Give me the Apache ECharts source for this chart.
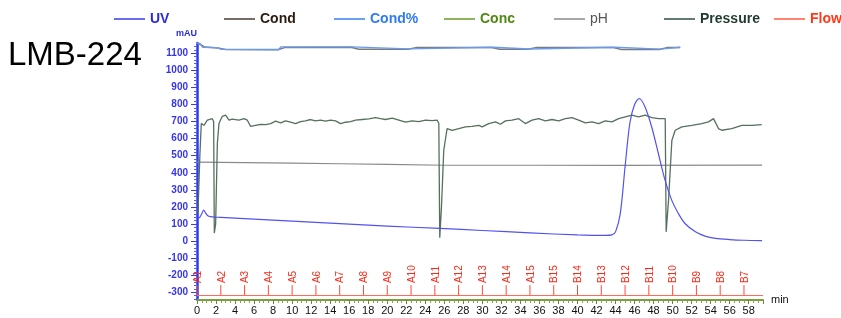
<!DOCTYPE html>
<html><head><meta charset="utf-8">
<script src="https://cdn.jsdelivr.net/npm/echarts@6/dist/echarts.min.js"></script>
<style>html,body{margin:0;padding:0;background:#fff}#c{width:841px;height:318px}</style>
</head><body><div id="c"></div>
<script>
// ---- data (minutes, value) ----
var uv = [[0.1,133],[0.3,140],[0.5,160],[0.7,181],[0.9,165],[1.1,150],[1.4,143],[2,140],[4,135],[8,123],[12,111],[16,99],[20,88],[25.5,74],[30,62],[35,48],[40,36],[43,33],[43.6,36],[44,54],[44.5,162],[45,435],[45.5,690],[46,800],[46.5,835],[47.1,785],[47.8,668],[48.5,513],[49.2,357],[49.9,240],[50.6,162],[51.3,103],[52.4,54],[53.4,29],[54.5,16],[56,9],[57.5,5],[59.4,3]];
var cond = [[0,1158],[0.4,1150],[0.8,1136],[2.2,1131],[3.0,1122],[8.5,1121],[9.2,1133],[16.2,1135],[17,1124],[22.2,1124],[23,1133],[31,1133],[31.8,1123],[34.8,1123],[35.6,1133],[43.8,1133],[44.6,1122],[48.6,1122],[49.4,1133],[50.8,1133]];
var condPct = [[0,1160],[0.3,1158],[0.6,1135],[2.0,1133],[2.6,1123],[8.6,1122],[8.8,1137],[16.3,1137],[16.5,1126],[22.2,1126],[22.4,1135],[31.1,1135],[31.3,1125],[34.9,1125],[35.1,1135],[43.9,1135],[44.1,1124],[48.7,1124],[48.9,1135],[50.8,1135]];
var conc = [];
var pH = [[0,462],[5,459],[10,456],[15,453],[20,449],[26,444],[35,444],[44,443],[44.2,445],[59.4,445]];
var pressure = [[0.1,160],[0.3,500],[0.45,688],[0.73,678],[0.91,680],[1.09,708],[1.61,717],[1.75,700],[1.82,47],[1.96,100],[2.14,573],[2.31,688],[2.66,731],[3.01,737],[3.36,708],[3.71,714],[4.41,708],[4.94,717],[5.29,708],[5.64,672],[6.16,678],[6.69,684],[7.21,682],[7.74,688],[8.26,702],[8.79,692],[9.31,704],[9.84,696],[10.36,688],[10.89,700],[11.41,704],[11.94,712],[12.46,704],[12.99,708],[13.52,702],[14.04,708],[14.57,704],[15.09,688],[15.62,696],[16.14,700],[16.67,708],[17.37,712],[18.07,716],[18.77,723],[19.29,717],[19.82,712],[20.52,720],[21.22,708],[21.92,696],[22.62,704],[23.32,700],[24.02,708],[24.72,706],[25.24,708],[25.42,690],[25.52,20],[25.7,200],[25.94,532],[26.29,659],[26.82,649],[27.52,659],[28.22,669],[28.92,672],[29.62,678],[29.97,669],[30.67,688],[31.37,698],[31.9,684],[32.42,704],[33.12,708],[33.82,717],[34.52,688],[35.22,708],[35.92,717],[36.62,704],[37.32,712],[38.02,704],[38.72,717],[39.42,723],[40.12,708],[40.82,692],[41.52,698],[42.22,688],[42.92,704],[43.62,698],[44.32,717],[45.02,727],[45.72,737],[46.42,727],[47.12,737],[47.82,723],[48.52,717],[49.22,717],[49.32,54],[49.57,240],[49.92,590],[50.27,649],[50.97,669],[52.02,678],[53.07,688],[53.77,698],[54.3,717],[54.82,659],[55.17,649],[56.22,659],[57.27,678],[58.32,678],[59.37,682]];
var flow = [];
var fracPos = [0,2.5,5,7.5,10,12.5,15,17.5,20,22.5,25,27.5,30,32.5,35,37.5,40,42.5,45,47.5,50,52.5,55,57.5];
var fracLabels = ['A1','A2','A3','A4','A5','A6','A7','A8','A9','A10','A11','A12','A13','A14','A15','B15','B14','B13','B12','B11','B10','B9','B8','B7'];
var fracBase = -316;
var yTicks = [-300,-200,-100,0,100,200,300,400,500,600,700,800,900,1000,1100];
var legendNames = ['UV','Cond','Cond%','Conc','pH','Pressure','Flow'];

var FONT = 'Liberation Sans, Arial, sans-serif';
var Y_MIN = -345, Y_MAX = 1160;
var legendTextColors = ['#2a2ae0','#2a1a10','#2f7bf2','#4f8a10','#555555','#1f3a2c','#ff3a1a'];
var legendLineColors = ['#3a3ae8','#4a3a30','#3a82f0','#6a9a2a','#8a8a8a','#2f4f3f','#ff5a40'];
var legends = legendNames.map(function(n,i){
  return {data:[{name:n, icon:'rect', itemStyle:{color:legendLineColors[i]}}], left:109+i*110, top:7, itemWidth:31, itemHeight:1.5, itemGap:7,
    textStyle:{fontFamily:FONT, fontSize:14, fontWeight: (n==='pH'?'normal':'bold'), color:legendTextColors[i]}};
});
// minor ticks between major y ticks (5 subdivisions)
var yMinor = [];
for (var k = 0; k < yTicks.length; k++) {
  for (var j = -4; j <= 4; j++) {
    var v = yTicks[k] + j * 20;
    if (v > Y_MIN && v < Y_MAX && yMinor.indexOf(v) < 0 && yTicks.indexOf(v) < 0) yMinor.push(v);
  }
}

var fracData = fracPos.map(function(p,i){return [p, fracBase];});

var chart = echarts.init(document.getElementById('c'), null, {renderer:'canvas'});
chart.setOption({
  animation:false,
  backgroundColor:'#fff',
  legend: legends,
  graphic:[{type:'text', left:8, top:39, style:{text:'LMB-224', font:'33px '+FONT, fill:'#000'}}],
  grid:{left:197, right:78, top:43, bottom:18},
  xAxis:{type:'value', min:0, max:59.5, interval:2,
    name:'min', nameLocation:'end', nameGap:8,
    nameTextStyle:{color:'#111', fontFamily:FONT, fontSize:11, verticalAlign:'middle', padding:[4,0,0,0]},
    axisLine:{show:true, onZero:false, lineStyle:{color:'#7aa03a', width:2}},
    axisTick:{show:true, length:4, lineStyle:{color:'#6a8a3a'}},
    minorTick:{show:true, splitNumber:4, length:3, lineStyle:{color:'#8aa060'}},
    axisLabel:{color:'#111', fontFamily:FONT, fontSize:11, margin:5, showMaxLabel:false},
    splitLine:{show:false}},
  yAxis:[{type:'value', min:Y_MIN, max:Y_MAX,
    name:'mAU', nameLocation:'end', nameGap:5,
    nameTextStyle:{color:'#2a2ae0', fontFamily:FONT, fontSize:9, fontWeight:'bold', align:'right', verticalAlign:'bottom'},
    axisLine:{show:true, onZero:false, lineStyle:{color:'#2a3cf0', width:2.5}},
    axisTick:{show:true, length:6, customValues:yTicks, lineStyle:{color:'#3a3af0'}},
    axisLabel:{color:'#3535f0', fontFamily:FONT, fontSize:10, fontWeight:'bold', margin:9, customValues:yTicks,
      formatter:function(v){return String(v);}},
    splitLine:{show:false}},
   {type:'value', min:Y_MIN, max:Y_MAX, position:'left', offset:0,
    axisLine:{show:false},
    axisTick:{show:true, length:3, customValues:yMinor, lineStyle:{color:'#5a5af0'}},
    axisLabel:{show:false, customValues:yMinor},
    splitLine:{show:false}}],
  series:[
    {name:'UV', type:'line', data:uv, symbol:'none', smooth:0.3, lineStyle:{color:'#5252f0', width:1.2}, itemStyle:{color:legendLineColors[0]}, z:5},
    {name:'Cond', type:'line', data:cond, symbol:'none', lineStyle:{color:'#7a7a7a', width:1.5}, itemStyle:{color:legendLineColors[1]}, z:3},
    {name:'Cond%', type:'line', data:condPct, symbol:'none', lineStyle:{color:'#6a9af0', width:1.3}, itemStyle:{color:legendLineColors[2]}, z:4},
    {name:'Conc', type:'line', data:conc, symbol:'none', lineStyle:{color:legendLineColors[3], width:1}, itemStyle:{color:legendLineColors[3]}},
    {name:'pH', type:'line', data:pH, symbol:'none', lineStyle:{color:'#8a8a8a', width:1.2}, itemStyle:{color:legendLineColors[4]}},
    {name:'Pressure', type:'line', data:pressure, symbol:'none', lineStyle:{color:'#55705c', width:1.3}, itemStyle:{color:legendLineColors[5]}, z:4},
    {name:'Flow', type:'line', data:flow, symbol:'none', lineStyle:{color:legendLineColors[6], width:1}, itemStyle:{color:legendLineColors[6]}},
    {name:'fractions', type:'custom', data:fracData, silent:true, z:6,
      encode:{x:0, y:1},
      renderItem:function(params, api){
        var p = api.coord([api.value(0), api.value(1)]);
        var label = fracLabels[params.dataIndex];
        return {type:'group', children:[
          {type:'line', shape:{x1:p[0], y1:p[1], x2:p[0], y2:p[1]-10}, style:{stroke:'#ff4a3a', lineWidth:1}},
          {type:'text', x:p[0]+1, y:p[1]-12, rotation:Math.PI/2,
            style:{text:label, font:'10px '+FONT, fill:'#ff2a1a', align:'left', verticalAlign:'middle'}}
        ]};
      },
      markLine:{silent:true, symbol:'none', label:{show:false}, lineStyle:{color:'#ff6a5a', type:'solid', width:1},
        data:[{yAxis:fracBase}]}
    }
  ]
});
</script></body></html>
